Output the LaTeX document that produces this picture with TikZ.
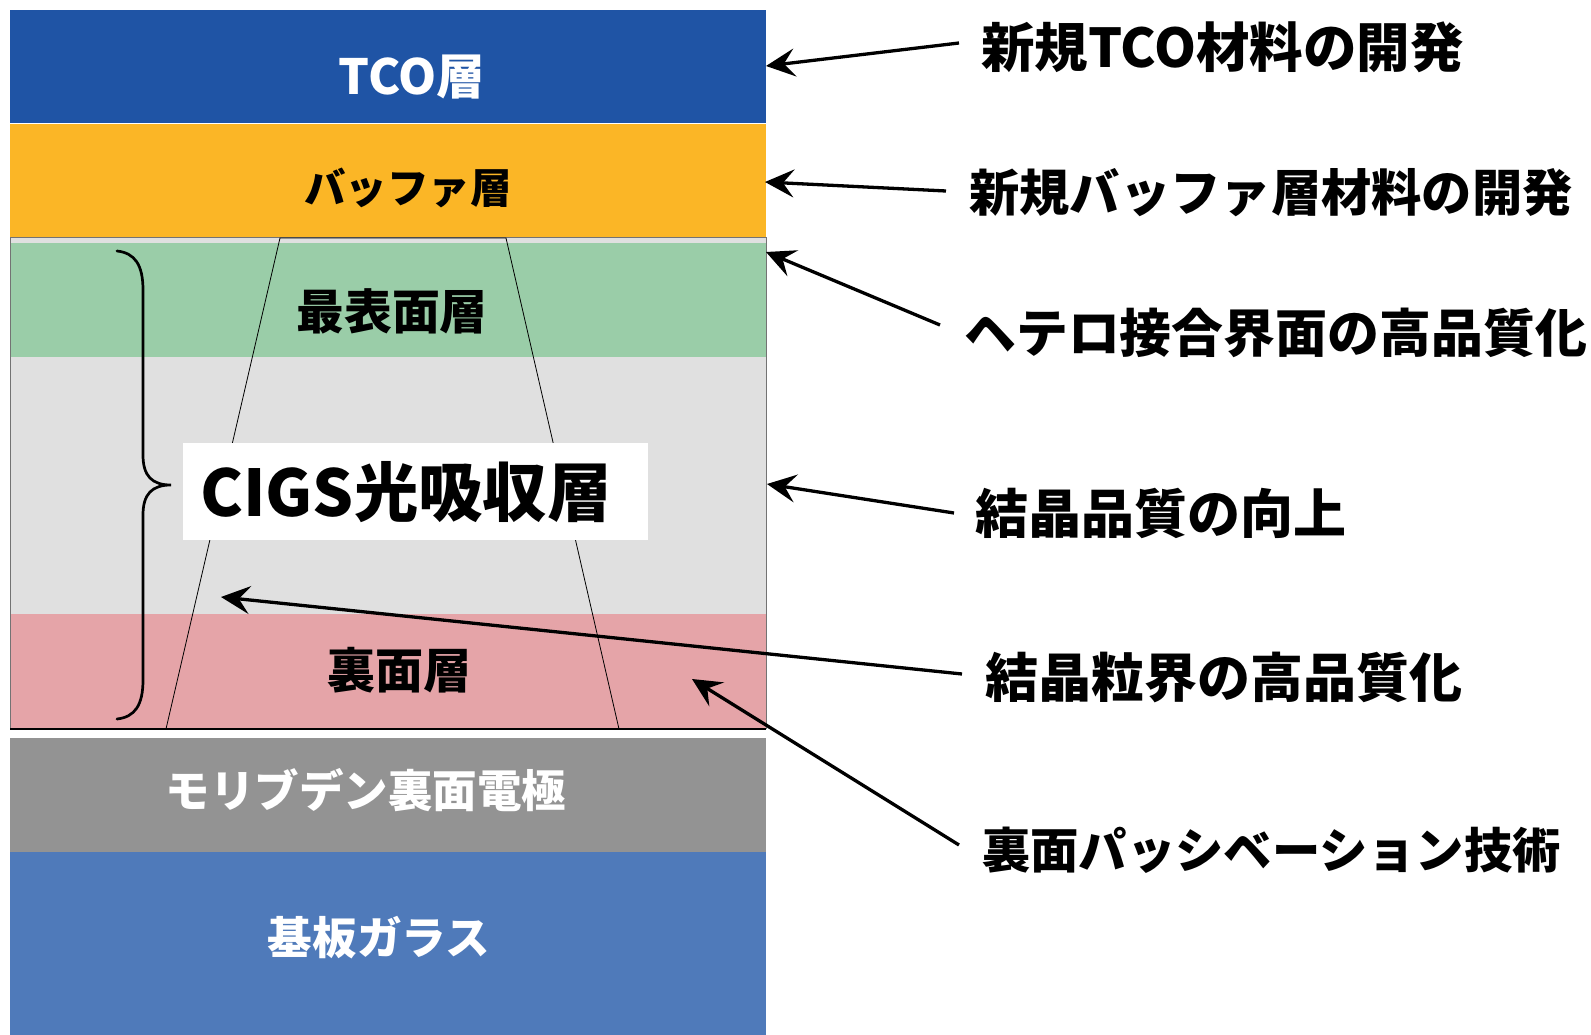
\documentclass[tikz,border=0pt]{standalone}
\usepackage{fontspec}
\setmainfont{Noto Sans CJK JP}
\usetikzlibrary{arrows.meta}
\definecolor{tcoblue}{HTML}{1F54A5}
\definecolor{bufor}{HTML}{FBB626}
\definecolor{surfgreen}{HTML}{9ACDA8}
\definecolor{cigsgray}{HTML}{E0E0E0}
\definecolor{backred}{HTML}{E5A4A8}
\definecolor{mogray}{HTML}{939393}
\definecolor{glassblue}{HTML}{4F7ABA}
\newcommand{\fsz}[1]{\fontsize{#1}{#1}\selectfont\bfseries}
\begin{document}
\begin{tikzpicture}[x=1pt,y=-1pt,
  lbl/.style={inner sep=0pt},
  rlbl/.style={anchor=west, inner sep=0pt},
  arr/.style={line width=3.3pt, -{Stealth[length=29pt,width=28pt,inset=11pt]}},
  trap/.style={line width=0.8pt, black},
]
\useasboundingbox[fill=white] (0,0) rectangle (1591,1035);
% layers
\fill[tcoblue] (10,10) rectangle (766,123);
\fill[bufor] (10,124.5) rectangle (766,238);
\fill[cigsgray] (10,238) rectangle (766,729);
\fill[surfgreen] (10,243) rectangle (766,357);
\fill[backred] (10,614) rectangle (766,729);
\draw[line width=1pt, black!55] (10,729) -- (10,238) -- (766,238) -- (766,729);
\draw[line width=1.2pt, black] (10,729) -- (766,729);
\fill[mogray] (10,738) rectangle (766,852);
\fill[glassblue] (10,852) rectangle (766,1035);
% trapezoid
\draw[trap] (166,729) -- (280,238) -- (506,238) -- (619,729);
% CIGS label box
\node[fill=white, minimum width=465pt, minimum height=97pt, inner sep=0pt] (cigsbox) at (415,491.5) {};
\node[font=\fsz{64.4}, inner sep=0pt] (cigs) at (406,492) {CIGS光吸収層};
% brace
\draw[line width=2.7pt, line cap=round] (117,251) .. controls (135,253) and (143,265) .. (143,290) -- (143,455)
  .. controls (143,476) and (152,485) .. (171,485)
  .. controls (152,485) and (143,494) .. (143,515) -- (143,680)
  .. controls (143,705) and (135,717) .. (117,719);
% layer labels
\node[lbl, font=\fsz{48.5}, text=white] (tco) at (412,77) {TCO層};
\node[lbl, font=\fsz{41.5}] (buf) at (408,188) {バッファ層};
\node[lbl, font=\fsz{47.8}] (surf) at (392,311) {最表面層};
\node[lbl, font=\fsz{48}] (back) at (399,670) {裏面層};
\node[lbl, font=\fsz{44.5}, text=white] (mo) at (366,790) {モリブデン裏面電極};
\node[lbl, font=\fsz{44.6}, text=white] (glass) at (379,938) {基板ガラス};
% right labels
\node[rlbl, font=\fsz{53.5}] (r1) at (981,47) {新規TCO材料の開発};
\node[rlbl, font=\fsz{50.3}] (r2) at (969,193) {新規バッファ層材料の開発};
\node[rlbl, font=\fsz{51.9}] (r3) at (964,333) {ヘテロ接合界面の高品質化};
\node[rlbl, font=\fsz{53}] (r4) at (975,513) {結晶品質の向上};
\node[rlbl, font=\fsz{53}] (r5) at (985,677) {結晶粒界の高品質化};
\node[rlbl, font=\fsz{48.3}] (r6) at (982,850) {裏面パッシベーション技術};
% arrow end points
\coordinate (s1) at (959,43);  \coordinate (e1) at (766,66);
\coordinate (s2) at (946,191); \coordinate (e2) at (765,182);
\coordinate (s3) at (940,325); \coordinate (e3) at (766,252);
\coordinate (s4) at (954,513); \coordinate (e4) at (767,484);
\coordinate (s5) at (962,674); \coordinate (e5) at (221,597);
\coordinate (s6) at (959,845); \coordinate (e6) at (692,679);
\draw[arr] (s1) -- (e1);
\draw[arr] (s2) -- (e2);
\draw[arr] (s3) -- (e3);
\draw[arr] (s4) -- (e4);
\draw[arr] (s5) -- (e5);
\draw[arr] (s6) -- (e6);
\end{tikzpicture}
\end{document}
